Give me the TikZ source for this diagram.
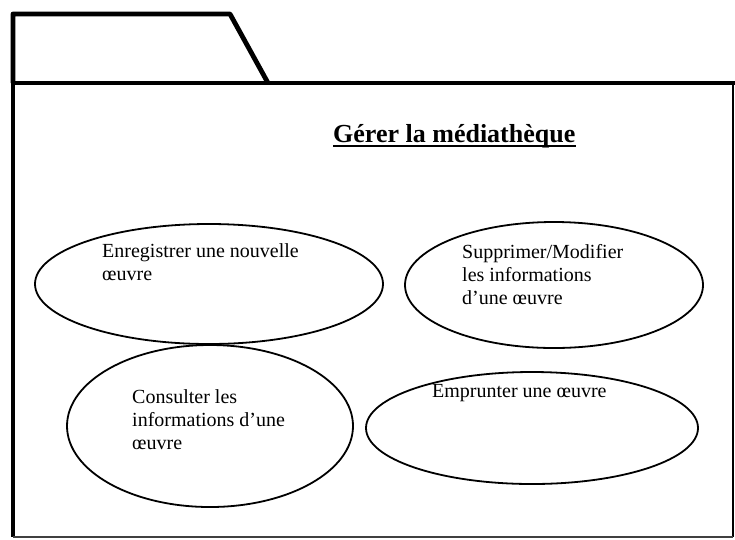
\documentclass[tikz,border=0pt]{standalone}
\usepackage{fontspec}
\setmainfont{Liberation Serif}
\usetikzlibrary{shapes.geometric}
\begin{document}
\begin{tikzpicture}[x=1pt,y=-1pt,
  usecase/.style={draw, ellipse, line width=1.8pt, inner sep=0pt},
  uclabel/.style={anchor=north west, align=left, inner sep=0pt,
    font=\fontsize{20}{23}\selectfont},
  frame/.style={line width=4.8pt, line join=round}]
\useasboundingbox (0,0) rectangle (735,539);

% package tab and body outline
\coordinate (tabBL) at (13,83);
\coordinate (tabTL) at (13,14);
\coordinate (tabTR) at (230,14);
\coordinate (tabBR) at (268,83);
\coordinate (bodyTR) at (735,83);
\coordinate (bodyBL) at (13,537);
\coordinate (bodyBR) at (733,537);
\coordinate (bodyRT) at (733,83);
\draw[frame] (tabBL) -- (tabTL) -- (tabTR) -- (tabBR);
\draw[frame] (tabBL) -- (bodyTR);
\draw[line width=4pt] (tabBL) -- (bodyBL);
\draw[line width=2.5pt] (bodyRT) -- (bodyBR);
\draw[line width=2pt, black!75] (bodyBL) -- (bodyBR);

% package title
\node[anchor=base west, inner sep=0pt, font=\fontsize{26}{29}\selectfont\bfseries]
  (title) at (333,142) {Gérer la médiathèque};
\draw[line width=1.6pt] ([yshift=-4pt]title.base west) -- ([yshift=-4pt]title.base east);

% use cases
\node[usecase, minimum width=348pt, minimum height=120pt] (uc1) at (209,284) {};
\node[usecase, minimum width=298pt, minimum height=126pt] (uc2) at (554,285) {};
\node[usecase, minimum width=286pt, minimum height=162pt] (uc3) at (210,426) {};
\node[usecase, minimum width=332pt, minimum height=112pt] (uc4) at (532,428) {};

\node[uclabel] (t1) at (102,241) {\strut Enregistrer une nouvelle\\œuvre};
\node[uclabel] (t2) at (462,242) {\strut Supprimer/Modifier\\les informations\\d’une œuvre};
\node[uclabel] (t3) at (132,387) {\strut Consulter les\\informations d’une\\œuvre};
\node[uclabel] (t4) at (432,381) {\strut Emprunter une œuvre};
\end{tikzpicture}
\end{document}
